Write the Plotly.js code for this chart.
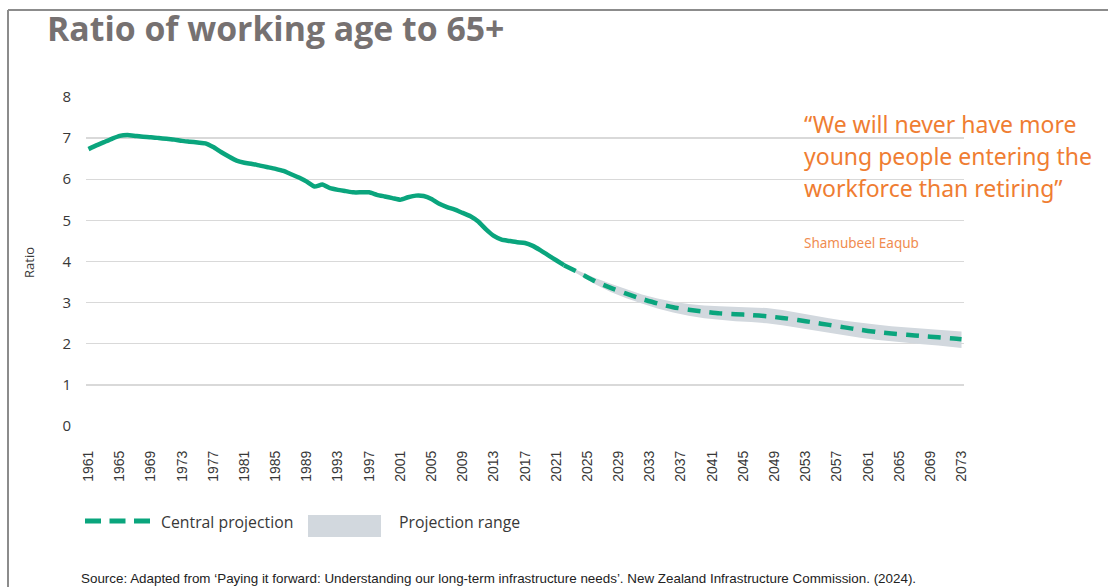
<!DOCTYPE html>
<html>
<head>
<meta charset="utf-8">
<script src="https://cdn.plot.ly/plotly-3.0.1.min.js"></script>
<style>
html,body{margin:0;padding:0;background:#fff;}
#chart{width:1108px;height:587px;}
</style>
</head>
<body>
<div id="chart"></div>
<script>
// ---- Data ----
const histYears = [1961,1962,1963,1964,1965,1966,1967,1968,1969,1970,1971,1972,1973,1974,1975,1976,1977,1978,1979,1980,1981,1982,1983,1984,1985,1986,1987,1988,1989,1990,1991,1992,1993,1994,1995,1996,1997,1998,1999,2000,2001,2002,2003,2004,2005,2006,2007,2008,2009,2010,2011,2012,2013,2014,2015,2016,2017,2018,2019,2020,2021,2022];
const histRatio = [6.73,6.82,6.90,6.98,7.05,7.07,7.05,7.03,7.02,7.00,6.98,6.96,6.93,6.91,6.89,6.87,6.78,6.66,6.55,6.45,6.40,6.37,6.33,6.29,6.25,6.20,6.12,6.04,5.94,5.82,5.87,5.78,5.74,5.71,5.68,5.68,5.68,5.62,5.58,5.54,5.50,5.56,5.60,5.59,5.52,5.40,5.32,5.26,5.18,5.10,4.97,4.78,4.62,4.53,4.50,4.47,4.45,4.38,4.27,4.15,4.03,3.91];

const projYears   = [2022,2024,2026,2028,2030,2032,2034,2036,2038,2040,2042,2044,2046,2048,2050,2052,2054,2056,2058,2060,2062,2064,2066,2068,2070,2072,2073];
const projCentral = [3.91,3.72,3.52,3.36,3.22,3.09,2.98,2.89,2.83,2.78,2.74,2.72,2.70,2.67,2.63,2.58,2.52,2.46,2.40,2.34,2.29,2.25,2.22,2.19,2.16,2.13,2.11];
const projHigh    = [3.93,3.77,3.60,3.46,3.33,3.20,3.10,3.02,2.97,2.93,2.91,2.90,2.89,2.87,2.82,2.75,2.68,2.62,2.56,2.51,2.47,2.43,2.40,2.37,2.34,2.31,2.30];
const projLow     = [3.89,3.67,3.45,3.26,3.11,2.98,2.86,2.76,2.68,2.62,2.58,2.55,2.53,2.50,2.45,2.39,2.32,2.26,2.20,2.15,2.10,2.06,2.02,1.99,1.96,1.92,1.90];

const xTickYears = [1961,1965,1969,1973,1977,1981,1985,1989,1993,1997,2001,2005,2009,2013,2017,2021,2025,2029,2033,2037,2041,2045,2049,2053,2057,2061,2065,2069,2073];
const yTickVals = [0,1,2,3,4,5,6,7,8];

const titleText = "Ratio of working age to 65+";
const yTitle = "Ratio";
const legendCentral = "Central projection";
const legendRange = "Projection range";
const quoteLines = ["\u201CWe will never have more", "young people entering the", "workforce than retiring\u201D"];
const quoteAuthor = "Shamubeel Eaqub";
const sourceText = "Source: Adapted from \u2018Paying it forward: Understanding our long-term infrastructure needs\u2019. New Zealand Infrastructure Commission. (2024).";

// ---- Layout geometry (pixels) ----
const W = 1108, H = 587;
const PL = 86, PR = 964, PT = 96, PB = 427;
const px = x => (x - PL) / (PR - PL);
const py = y => (PB - y) / (PB - PT);

const GREEN = "#0aa57d";
const BAND = "#d2d8de";
const ORANGE = "#ef7d32";
const TXT = "#383838";

const traces = [
  {x: projYears, y: projLow, type: "scatter", mode: "lines", line: {width: 0, color: BAND}, hoverinfo: "skip", showlegend: false},
  {x: projYears, y: projHigh, type: "scatter", mode: "lines", fill: "tonexty", fillcolor: BAND, line: {width: 0, color: BAND}, name: legendRange, showlegend: false},
  {x: histYears, y: histRatio, type: "scatter", mode: "lines", line: {color: GREEN, width: 4.5, shape: "spline", smoothing: 0.5}, name: "Historical", showlegend: false},
  {x: projYears, y: projCentral, type: "scatter", mode: "lines", line: {color: GREEN, width: 4.5, dash: "13px,9px", shape: "spline", smoothing: 0.6}, name: legendCentral, showlegend: false}
];

const annotations = [];
quoteLines.forEach((t, i) => {
  annotations.push({xref: "paper", yref: "paper", x: px(802), y: py(124 + i * 32), xanchor: "left", yanchor: "middle",
    text: t, showarrow: false, font: {family: "Noto Sans, Open Sans, sans-serif", size: 23, color: ORANGE}});
});
annotations.push({xref: "paper", yref: "paper", x: px(802), y: py(243), xanchor: "left", yanchor: "middle",
  text: quoteAuthor, showarrow: false, font: {family: "Noto Sans, sans-serif", size: 13.5, color: "#f08c50"}});
annotations.push({xref: "paper", yref: "paper", x: px(29), y: py(262), xanchor: "center", yanchor: "middle", textangle: -90,
  text: yTitle, showarrow: false, font: {family: "Open Sans, sans-serif", size: 13, color: TXT}});
annotations.push({xref: "paper", yref: "paper", x: px(159), y: py(522), xanchor: "left", yanchor: "middle",
  text: legendCentral, showarrow: false, font: {family: "Open Sans, sans-serif", size: 15.8, color: TXT}});
annotations.push({xref: "paper", yref: "paper", x: px(397), y: py(522), xanchor: "left", yanchor: "middle",
  text: legendRange, showarrow: false, font: {family: "Open Sans, sans-serif", size: 15.8, color: TXT}});
annotations.push({xref: "paper", yref: "paper", x: px(79), y: py(578), xanchor: "left", yanchor: "middle",
  text: sourceText, showarrow: false, font: {family: "Liberation Sans, Arial, sans-serif", size: 13.4, color: "#222"}});

const shapes = [
  // slide frame
  {type: "line", xref: "paper", yref: "paper", x0: px(8), x1: px(W + 2), y0: py(10), y1: py(10), line: {color: "#8c8c8c", width: 2}},
  {type: "line", xref: "paper", yref: "paper", x0: px(8), x1: px(8), y0: py(10), y1: py(H + 2), line: {color: "#8c8c8c", width: 2}},
  // legend samples
  {type: "line", xref: "paper", yref: "paper", x0: px(85), x1: px(150), y0: py(521), y1: py(521), line: {color: GREEN, width: 5, dash: "16px,8.5px"}},
  {type: "rect", xref: "paper", yref: "paper", x0: px(308), x1: px(381), y0: py(515), y1: py(537), fillcolor: BAND, line: {width: 0}}
];

const layout = {
  width: W, height: H,
  margin: {l: PL, r: W - PR, t: PT, b: H - PB, pad: 0},
  paper_bgcolor: "#fff", plot_bgcolor: "#fff",
  showlegend: false,
  title: {text: "<b>" + titleText + "</b>", xref: "container", yref: "container", x: 47 / W, xanchor: "left", y: 1 - 29 / H, yanchor: "middle",
    font: {family: "Open Sans, sans-serif", size: 33.8, color: "#767171"}},
  xaxis: {
    range: [1960.68, 2073.32], tickmode: "array", tickvals: xTickYears, ticktext: xTickYears.map(String),
    tickangle: -90, tickfont: {family: "Liberation Sans, Arial, sans-serif", size: 14, color: TXT},
    ticks: "outside", ticklen: 17, tickcolor: "rgba(0,0,0,0)", showgrid: false, zeroline: false, showline: false
  },
  yaxis: {
    range: [-0.02, 8.02], tickmode: "array", tickvals: yTickVals, ticktext: yTickVals.map(String),
    tickfont: {family: "Open Sans, sans-serif", size: 15, color: TXT},
    ticks: "outside", ticklen: 11, tickcolor: "rgba(0,0,0,0)",
    showgrid: true, gridcolor: "#d9d9d9", gridwidth: 1.2, zeroline: false, showline: false
  },
  annotations: annotations,
  shapes: shapes,
  hovermode: false
};

Plotly.newPlot("chart", traces, layout, {staticPlot: true, displayModeBar: false});
</script>
</body>
</html>
